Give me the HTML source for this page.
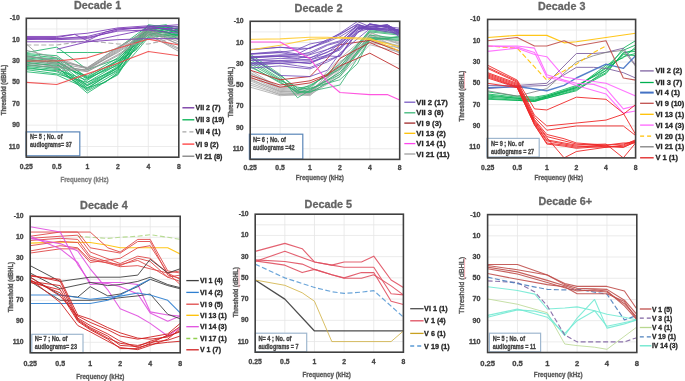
<!DOCTYPE html><html><head><meta charset="utf-8"><style>html,body{margin:0;padding:0;background:#fff;}svg{display:block;will-change:transform;filter:blur(0.25px);}text{font-family:"Liberation Sans",sans-serif;}</style></head><body>
<svg width="685" height="381" viewBox="0 0 685 381">
<rect width="685" height="381" fill="#fff"/>
<path d="M26.30 39.67H178.80 M26.30 61.04H178.80 M26.30 82.41H178.80 M26.30 103.78H178.80 M26.30 125.15H178.80 M26.30 146.52H178.80 M26.30 28.98H178.80 M56.80 18.30V157.20 M87.30 18.30V157.20 M117.80 18.30V157.20 M148.30 18.30V157.20" stroke="#e6e6e6" stroke-width="0.8" fill="none"/>
<path d="M250.20 42.55H399.70 M250.20 63.79H399.70 M250.20 85.04H399.70 M250.20 106.28H399.70 M250.20 127.53H399.70 M250.20 148.78H399.70 M250.20 31.92H399.70 M280.10 21.30V159.40 M310.00 21.30V159.40 M339.90 21.30V159.40 M369.80 21.30V159.40" stroke="#e6e6e6" stroke-width="0.8" fill="none"/>
<path d="M487.60 40.71H635.60 M487.60 62.02H635.60 M487.60 83.32H635.60 M487.60 104.63H635.60 M487.60 125.94H635.60 M487.60 147.25H635.60 M487.60 30.05H635.60 M517.20 19.40V157.90 M546.80 19.40V157.90 M576.40 19.40V157.90 M606.00 19.40V157.90" stroke="#e6e6e6" stroke-width="0.8" fill="none"/>
<path d="M30.20 237.30H180.20 M30.20 258.30H180.20 M30.20 279.30H180.20 M30.20 300.30H180.20 M30.20 321.30H180.20 M30.20 342.30H180.20 M30.20 226.80H180.20 M60.20 216.30V352.80 M90.20 216.30V352.80 M120.20 216.30V352.80 M150.20 216.30V352.80" stroke="#e6e6e6" stroke-width="0.8" fill="none"/>
<path d="M255.20 235.43H403.40 M255.20 256.66H403.40 M255.20 277.89H403.40 M255.20 299.12H403.40 M255.20 320.35H403.40 M255.20 341.58H403.40 M255.20 224.82H403.40 M284.84 214.20V352.20 M314.48 214.20V352.20 M344.12 214.20V352.20 M373.76 214.20V352.20" stroke="#e6e6e6" stroke-width="0.8" fill="none"/>
<path d="M487.60 235.82H636.80 M487.60 257.03H636.80 M487.60 278.25H636.80 M487.60 299.46H636.80 M487.60 320.68H636.80 M487.60 341.89H636.80 M487.60 225.21H636.80 M517.44 214.60V352.50 M547.28 214.60V352.50 M577.12 214.60V352.50 M606.96 214.60V352.50" stroke="#e6e6e6" stroke-width="0.8" fill="none"/>
<polyline points="26.30,52.49 56.80,47.15 87.30,69.59 117.80,58.90 135.64,41.81 148.30,28.98 178.80,34.33" stroke="#10b060" stroke-width="0.9" stroke-opacity="0.9" fill="none" stroke-linejoin="round"/>
<polyline points="56.80,52.49 87.30,52.49 105.14,52.49 117.80,48.22 148.30,25.78 178.80,32.19" stroke="#10b060" stroke-width="0.9" stroke-opacity="0.9" fill="none" stroke-linejoin="round"/>
<polyline points="26.30,54.63 56.80,57.83 87.30,77.07 117.80,61.04 135.64,43.94 148.30,26.85 166.14,24.71 178.80,31.12" stroke="#10b060" stroke-width="0.9" stroke-opacity="0.9" fill="none" stroke-linejoin="round"/>
<polyline points="26.30,56.76 56.80,58.90 87.30,82.41 117.80,64.24 135.64,39.67 148.30,28.98 178.80,35.40" stroke="#10b060" stroke-width="0.9" stroke-opacity="0.9" fill="none" stroke-linejoin="round"/>
<polyline points="26.30,57.83 56.80,61.04 87.30,85.61 117.80,67.45 135.64,46.08 148.30,31.12 166.14,26.85 178.80,33.26" stroke="#10b060" stroke-width="0.9" stroke-opacity="0.9" fill="none" stroke-linejoin="round"/>
<polyline points="26.30,58.90 56.80,63.18 87.30,87.75 117.80,69.59 135.64,41.81 148.30,24.71 178.80,28.98" stroke="#10b060" stroke-width="0.9" stroke-opacity="0.9" fill="none" stroke-linejoin="round"/>
<polyline points="26.30,61.04 56.80,64.24 87.30,89.89 117.80,71.72 135.64,48.22 148.30,32.19 166.14,35.40 178.80,37.53" stroke="#10b060" stroke-width="0.9" stroke-opacity="0.9" fill="none" stroke-linejoin="round"/>
<polyline points="26.30,62.11 56.80,66.38 87.30,93.09 117.80,73.86 135.64,45.01 148.30,27.92 178.80,31.12" stroke="#10b060" stroke-width="0.9" stroke-opacity="0.9" fill="none" stroke-linejoin="round"/>
<polyline points="26.30,64.24 56.80,68.52 87.30,84.54 117.80,66.38 135.64,40.74 148.30,30.05 166.14,25.78 178.80,26.85" stroke="#10b060" stroke-width="0.9" stroke-opacity="0.9" fill="none" stroke-linejoin="round"/>
<polyline points="26.30,66.38 56.80,69.59 87.30,80.27 117.80,61.04 135.64,50.35 148.30,34.33 178.80,38.60" stroke="#10b060" stroke-width="0.9" stroke-opacity="0.9" fill="none" stroke-linejoin="round"/>
<polyline points="26.30,67.45 56.80,71.72 87.30,87.75 105.14,82.41 117.80,72.79 135.64,52.49 148.30,37.53 178.80,34.33" stroke="#10b060" stroke-width="0.9" stroke-opacity="0.9" fill="none" stroke-linejoin="round"/>
<polyline points="26.30,69.59 56.80,73.86 87.30,82.41 117.80,68.52 135.64,42.87 148.30,35.40 166.14,28.98 178.80,32.19" stroke="#10b060" stroke-width="0.9" stroke-opacity="0.9" fill="none" stroke-linejoin="round"/>
<polyline points="26.30,55.70 56.80,61.04 87.30,79.20 117.80,63.18 135.64,38.60 148.30,27.92 178.80,36.46" stroke="#10b060" stroke-width="0.9" stroke-opacity="0.9" fill="none" stroke-linejoin="round"/>
<polyline points="26.30,59.97 56.80,62.11 87.30,78.13 117.80,59.97 135.64,39.67 148.30,31.12 166.14,33.26 178.80,28.98" stroke="#10b060" stroke-width="0.9" stroke-opacity="0.9" fill="none" stroke-linejoin="round"/>
<polyline points="26.30,63.18 56.80,65.31 87.30,76.00 117.80,57.83 135.64,37.53 148.30,25.78 178.80,33.26" stroke="#10b060" stroke-width="0.9" stroke-opacity="0.9" fill="none" stroke-linejoin="round"/>
<polyline points="26.30,53.56 56.80,55.70 87.30,78.13 117.80,65.31 135.64,43.94 148.30,33.26 178.80,35.40" stroke="#10b060" stroke-width="0.9" stroke-opacity="0.9" fill="none" stroke-linejoin="round"/>
<polyline points="26.30,65.31 56.80,67.45 87.30,90.96 117.80,74.93 135.64,47.15 148.30,28.98 166.14,26.85 178.80,30.05" stroke="#10b060" stroke-width="0.9" stroke-opacity="0.9" fill="none" stroke-linejoin="round"/>
<polyline points="26.30,68.52 56.80,70.65 87.30,85.61 117.80,70.65 135.64,41.81 148.30,32.19 178.80,27.92" stroke="#10b060" stroke-width="0.9" stroke-opacity="0.9" fill="none" stroke-linejoin="round"/>
<polyline points="26.30,71.72 56.80,74.93 87.30,88.82 117.80,67.45 135.64,49.29 148.30,36.46 166.14,31.12 178.80,39.67" stroke="#10b060" stroke-width="0.9" stroke-opacity="0.9" fill="none" stroke-linejoin="round"/>
<polyline points="26.30,43.94 56.80,70.65 87.30,69.59 117.80,50.35 148.30,31.12 178.80,41.81" stroke="#959595" stroke-width="0.9" stroke-opacity="0.9" fill="none" stroke-linejoin="round"/>
<polyline points="26.30,55.70 56.80,61.04 87.30,67.45 117.80,48.22 148.30,28.98 178.80,45.01" stroke="#959595" stroke-width="0.9" stroke-opacity="0.9" fill="none" stroke-linejoin="round"/>
<polyline points="26.30,58.90 56.80,63.18 87.30,68.52 117.80,52.49 148.30,33.26 178.80,48.22" stroke="#959595" stroke-width="0.9" stroke-opacity="0.9" fill="none" stroke-linejoin="round"/>
<polyline points="26.30,61.04 56.80,64.24 87.30,71.19 117.80,54.63 148.30,34.33 178.80,51.42" stroke="#959595" stroke-width="0.9" stroke-opacity="0.9" fill="none" stroke-linejoin="round"/>
<polyline points="26.30,63.18 56.80,66.38 87.30,70.12 117.80,51.42 148.30,32.19 178.80,43.94" stroke="#959595" stroke-width="0.9" stroke-opacity="0.9" fill="none" stroke-linejoin="round"/>
<polyline points="26.30,56.76 56.80,59.97 87.30,67.98 117.80,47.15 148.30,30.05 178.80,39.67" stroke="#959595" stroke-width="0.9" stroke-opacity="0.9" fill="none" stroke-linejoin="round"/>
<polyline points="26.30,65.31 56.80,67.45 87.30,71.72 117.80,55.70 148.30,35.40 178.80,49.29" stroke="#959595" stroke-width="0.9" stroke-opacity="0.9" fill="none" stroke-linejoin="round"/>
<polyline points="26.30,50.35 56.80,57.83 87.30,68.52 117.80,49.29 148.30,27.92 178.80,37.53" stroke="#959595" stroke-width="0.9" stroke-opacity="0.9" fill="none" stroke-linejoin="round"/>
<polyline points="26.30,61.04 56.80,61.04 87.30,57.83 117.80,48.22 148.30,39.13 178.80,45.01" stroke="#f04848" stroke-width="1.1" stroke-opacity="0.9" fill="none" stroke-linejoin="round"/>
<polyline points="26.30,82.41 56.80,84.54 87.30,73.86 117.80,63.18 148.30,51.42 178.80,55.70" stroke="#f04848" stroke-width="1.1" stroke-opacity="0.9" fill="none" stroke-linejoin="round"/>
<polyline points="26.30,45.01 56.80,45.01 87.30,40.74 117.80,43.94 148.30,43.94 178.80,37.53" stroke="#a6a6a6" stroke-width="1.1" stroke-opacity="0.9" fill="none" stroke-linejoin="round" stroke-dasharray="5,2.5"/>
<polyline points="26.30,36.46 56.80,36.46 74.64,34.33 87.30,33.26 117.80,27.92 148.30,25.78 178.80,26.85" stroke="#8040b8" stroke-width="1.0" stroke-opacity="0.9" fill="none" stroke-linejoin="round"/>
<polyline points="26.30,37.53 56.80,37.53 74.64,34.33 87.30,40.74 105.14,32.19 117.80,28.98 148.30,26.85 178.80,31.12" stroke="#8040b8" stroke-width="1.0" stroke-opacity="0.9" fill="none" stroke-linejoin="round"/>
<polyline points="26.30,38.60 56.80,38.60 87.30,36.46 117.80,28.98 148.30,27.92 178.80,28.98" stroke="#8040b8" stroke-width="1.0" stroke-opacity="0.9" fill="none" stroke-linejoin="round"/>
<polyline points="26.30,39.67 56.80,38.60 87.30,37.53 117.80,31.12 148.30,30.05 178.80,33.26" stroke="#8040b8" stroke-width="1.0" stroke-opacity="0.9" fill="none" stroke-linejoin="round"/>
<polyline points="26.30,41.81 56.80,41.81 87.30,41.81 117.80,39.67 148.30,38.60 178.80,38.60" stroke="#8040b8" stroke-width="1.0" stroke-opacity="0.9" fill="none" stroke-linejoin="round"/>
<polyline points="56.80,49.29 87.30,41.81 117.80,35.40 148.30,28.98 178.80,27.92" stroke="#8040b8" stroke-width="1.0" stroke-opacity="0.9" fill="none" stroke-linejoin="round"/>
<polyline points="26.30,38.60 56.80,39.67 87.30,38.60 117.80,30.05 148.30,26.85 178.80,24.71" stroke="#8040b8" stroke-width="1.0" stroke-opacity="0.9" fill="none" stroke-linejoin="round"/>
<polyline points="250.20,70.17 280.10,88.23 310.00,90.35 339.90,69.10 369.80,35.11 399.70,42.55" stroke="#a8a8a8" stroke-width="0.9" stroke-opacity="0.9" fill="none" stroke-linejoin="round"/>
<polyline points="250.20,72.29 280.10,89.29 310.00,91.41 339.90,72.29 369.80,37.23 399.70,46.80" stroke="#a8a8a8" stroke-width="0.9" stroke-opacity="0.9" fill="none" stroke-linejoin="round"/>
<polyline points="250.20,74.42 280.10,90.35 310.00,92.47 339.90,66.98 369.80,31.92 399.70,44.67" stroke="#a8a8a8" stroke-width="0.9" stroke-opacity="0.9" fill="none" stroke-linejoin="round"/>
<polyline points="250.20,76.54 280.10,91.41 310.00,93.54 339.90,74.42 369.80,40.42 399.70,51.04" stroke="#a8a8a8" stroke-width="0.9" stroke-opacity="0.9" fill="none" stroke-linejoin="round"/>
<polyline points="250.20,78.66 280.10,92.47 310.00,94.60 339.90,63.79 369.80,34.05 399.70,48.92" stroke="#a8a8a8" stroke-width="0.9" stroke-opacity="0.9" fill="none" stroke-linejoin="round"/>
<polyline points="250.20,80.79 280.10,93.54 310.00,95.66 339.90,70.17 369.80,38.30 399.70,53.17" stroke="#a8a8a8" stroke-width="0.9" stroke-opacity="0.9" fill="none" stroke-linejoin="round"/>
<polyline points="250.20,82.91 280.10,94.60 310.00,92.47 339.90,61.67 369.80,42.55 399.70,47.86" stroke="#a8a8a8" stroke-width="0.9" stroke-opacity="0.9" fill="none" stroke-linejoin="round"/>
<polyline points="250.20,85.04 280.10,94.60 310.00,93.54 339.90,65.92 369.80,36.17 399.70,43.61" stroke="#a8a8a8" stroke-width="0.9" stroke-opacity="0.9" fill="none" stroke-linejoin="round"/>
<polyline points="250.20,87.16 280.10,95.66 310.00,94.60 339.90,76.54 369.80,44.67 399.70,52.11" stroke="#a8a8a8" stroke-width="0.9" stroke-opacity="0.9" fill="none" stroke-linejoin="round"/>
<polyline points="250.20,73.35 280.10,87.16 310.00,89.29 339.90,58.48 369.80,32.99 399.70,41.48" stroke="#a8a8a8" stroke-width="0.9" stroke-opacity="0.9" fill="none" stroke-linejoin="round"/>
<polyline points="250.20,79.73 280.10,91.41 310.00,91.41 339.90,68.04 369.80,39.36 399.70,45.73" stroke="#a8a8a8" stroke-width="0.9" stroke-opacity="0.9" fill="none" stroke-linejoin="round"/>
<polyline points="250.20,54.23 280.10,74.42 297.59,90.35 310.00,87.16 339.90,63.79 369.80,30.86 399.70,34.05" stroke="#30b070" stroke-width="0.9" stroke-opacity="0.9" fill="none" stroke-linejoin="round"/>
<polyline points="250.20,57.42 280.10,76.54 297.59,97.79 310.00,90.35 339.90,72.29 369.80,39.36 399.70,37.23" stroke="#30b070" stroke-width="0.9" stroke-opacity="0.9" fill="none" stroke-linejoin="round"/>
<polyline points="250.20,59.54 280.10,78.66 297.59,93.54 310.00,88.23 339.90,79.73 357.39,63.79 369.80,38.30 399.70,40.42" stroke="#30b070" stroke-width="0.9" stroke-opacity="0.9" fill="none" stroke-linejoin="round"/>
<polyline points="250.20,61.67 280.10,79.73 297.59,90.35 310.00,85.04 339.90,69.10 369.80,31.92 399.70,35.11" stroke="#30b070" stroke-width="0.9" stroke-opacity="0.9" fill="none" stroke-linejoin="round"/>
<polyline points="250.20,63.79 280.10,80.79 297.59,87.16 310.00,89.29 339.90,74.42 369.80,35.11 399.70,38.30" stroke="#30b070" stroke-width="0.9" stroke-opacity="0.9" fill="none" stroke-linejoin="round"/>
<polyline points="250.20,65.92 280.10,82.91 297.59,91.41 310.00,91.41 339.90,85.04 357.39,58.48 369.80,40.42 399.70,36.17" stroke="#30b070" stroke-width="0.9" stroke-opacity="0.9" fill="none" stroke-linejoin="round"/>
<polyline points="250.20,56.36 280.10,75.48 297.59,88.23 310.00,86.10 339.90,66.98 369.80,29.80 399.70,32.99" stroke="#30b070" stroke-width="0.9" stroke-opacity="0.9" fill="none" stroke-linejoin="round"/>
<polyline points="250.20,66.98 280.10,81.85 297.59,92.47 310.00,92.47 339.90,76.54 369.80,37.23 399.70,39.36" stroke="#30b070" stroke-width="0.9" stroke-opacity="0.9" fill="none" stroke-linejoin="round"/>
<polyline points="250.20,70.17 280.10,79.73 310.00,76.54 327.49,58.48 339.90,44.67 369.80,40.42 399.70,51.04" stroke="#c03030" stroke-width="1.0" stroke-opacity="0.9" fill="none" stroke-linejoin="round"/>
<polyline points="250.20,75.48 280.10,85.04 310.00,80.79 327.49,74.42 339.90,65.92 369.80,53.17 399.70,69.10" stroke="#c03030" stroke-width="1.0" stroke-opacity="0.9" fill="none" stroke-linejoin="round"/>
<polyline points="250.20,77.60 280.10,87.16 310.00,82.91 327.49,75.48 339.90,58.48 369.80,42.55 399.70,55.29" stroke="#c03030" stroke-width="1.0" stroke-opacity="0.9" fill="none" stroke-linejoin="round"/>
<polyline points="250.20,49.45 280.10,47.22 297.59,49.34 310.00,43.93 327.49,40.63 339.90,33.20 357.39,21.51 369.80,26.61 387.29,24.70 399.70,31.82" stroke="#7048b8" stroke-width="0.9" stroke-opacity="0.9" fill="none" stroke-linejoin="round"/>
<polyline points="250.20,49.77 280.10,47.33 310.00,48.50 327.49,39.47 339.90,33.84 357.39,24.59 369.80,29.48 387.29,28.21 399.70,31.50" stroke="#7048b8" stroke-width="0.9" stroke-opacity="0.9" fill="none" stroke-linejoin="round"/>
<polyline points="250.20,53.81 280.10,51.26 297.59,54.02 310.00,47.65 327.49,40.95 339.90,34.69 357.39,23.85 369.80,28.63 387.29,25.66 399.70,33.20" stroke="#7048b8" stroke-width="0.9" stroke-opacity="0.9" fill="none" stroke-linejoin="round"/>
<polyline points="250.20,53.81 280.10,52.32 310.00,48.18 327.49,41.91 339.90,36.81 357.39,26.08 369.80,26.19 387.29,26.51 399.70,33.30" stroke="#7048b8" stroke-width="0.9" stroke-opacity="0.9" fill="none" stroke-linejoin="round"/>
<polyline points="250.20,54.34 280.10,52.64 297.59,55.19 310.00,52.21 327.49,44.46 339.90,40.74 357.39,26.08 369.80,29.05 387.29,29.16 399.70,30.44" stroke="#7048b8" stroke-width="0.9" stroke-opacity="0.9" fill="none" stroke-linejoin="round"/>
<polyline points="250.20,57.21 280.10,54.87 310.00,53.91 327.49,45.31 339.90,41.80 357.39,24.70 369.80,27.67 387.29,29.37 399.70,33.20" stroke="#7048b8" stroke-width="0.9" stroke-opacity="0.9" fill="none" stroke-linejoin="round"/>
<polyline points="250.20,57.95 280.10,56.36 297.59,58.59 310.00,54.66 327.49,49.45 339.90,43.08 357.39,28.74 369.80,29.48 387.29,27.46 399.70,34.05" stroke="#7048b8" stroke-width="0.9" stroke-opacity="0.9" fill="none" stroke-linejoin="round"/>
<polyline points="250.20,56.46 280.10,56.14 310.00,57.74 327.49,52.43 339.90,43.61 357.39,27.36 369.80,27.67 387.29,24.59 399.70,32.14" stroke="#7048b8" stroke-width="0.9" stroke-opacity="0.9" fill="none" stroke-linejoin="round"/>
<polyline points="250.20,57.95 280.10,55.72 297.59,55.93 310.00,58.16 327.49,49.34 339.90,44.88 357.39,28.10 369.80,28.95 387.29,25.02 399.70,31.92" stroke="#7048b8" stroke-width="0.9" stroke-opacity="0.9" fill="none" stroke-linejoin="round"/>
<polyline points="250.20,60.29 280.10,60.50 310.00,60.07 327.49,51.79 339.90,47.54 357.39,28.52 369.80,29.05 387.29,30.54 399.70,29.16" stroke="#7048b8" stroke-width="0.9" stroke-opacity="0.9" fill="none" stroke-linejoin="round"/>
<polyline points="250.20,60.29 280.10,58.37 297.59,59.12 310.00,59.86 327.49,55.19 339.90,48.07 357.39,27.67 369.80,26.08 387.29,26.82 399.70,33.09" stroke="#7048b8" stroke-width="0.9" stroke-opacity="0.9" fill="none" stroke-linejoin="round"/>
<polyline points="250.20,63.90 280.10,63.47 310.00,61.77 327.49,57.10 339.90,48.39 357.39,32.14 369.80,28.42 387.29,30.01 399.70,35.32" stroke="#7048b8" stroke-width="0.9" stroke-opacity="0.9" fill="none" stroke-linejoin="round"/>
<polyline points="250.20,63.26 280.10,61.88 297.59,62.20 310.00,63.26 327.49,54.66 339.90,49.98 357.39,29.80 369.80,24.49 387.29,26.61 399.70,28.21" stroke="#7048b8" stroke-width="0.9" stroke-opacity="0.9" fill="none" stroke-linejoin="round"/>
<polyline points="250.20,63.15 280.10,60.92 310.00,63.58 327.49,55.83 339.90,56.67 357.39,32.24 369.80,24.38 387.29,26.08 399.70,30.97" stroke="#7048b8" stroke-width="0.9" stroke-opacity="0.9" fill="none" stroke-linejoin="round"/>
<polyline points="250.20,65.39 280.10,63.15 297.59,65.81 310.00,67.62 327.49,60.07 339.90,55.72 357.39,30.54 369.80,24.06 387.29,26.72 399.70,30.22" stroke="#7048b8" stroke-width="0.9" stroke-opacity="0.9" fill="none" stroke-linejoin="round"/>
<polyline points="250.20,68.04 280.10,65.92 310.00,68.89 327.49,61.88 339.90,55.19 357.39,33.20 369.80,23.64 387.29,27.89 399.70,37.02" stroke="#7048b8" stroke-width="0.9" stroke-opacity="0.9" fill="none" stroke-linejoin="round"/>
<polyline points="250.20,57.42 280.10,75.48 310.00,76.54 327.49,70.17 339.90,53.17 369.80,28.74 399.70,34.05" stroke="#7048b8" stroke-width="0.9" stroke-opacity="0.9" fill="none" stroke-linejoin="round"/>
<polyline points="250.20,39.36 280.10,38.83 310.00,37.23 327.49,37.23 339.90,38.30 369.80,39.36 399.70,46.80" stroke="#ffcc33" stroke-width="1.1" stroke-opacity="0.9" fill="none" stroke-linejoin="round"/>
<polyline points="250.20,49.98 280.10,45.20 310.00,39.36 327.49,38.30 339.90,37.23 369.80,38.30 399.70,51.04" stroke="#ffcc33" stroke-width="1.1" stroke-opacity="0.9" fill="none" stroke-linejoin="round"/>
<polyline points="250.20,42.02 280.10,42.02 310.00,58.48 327.49,81.85 339.90,92.47 369.80,94.60 387.29,94.60 399.70,99.91" stroke="#ff44dd" stroke-width="1.1" stroke-opacity="0.9" fill="none" stroke-linejoin="round"/>
<polyline points="487.60,91.85 517.20,96.11 534.51,97.17 546.80,95.04 576.40,85.45 606.00,70.54 623.31,48.17 635.60,40.71" stroke="#00b050" stroke-width="0.9" stroke-opacity="0.9" fill="none" stroke-linejoin="round"/>
<polyline points="487.60,93.98 517.20,97.17 534.51,98.24 546.80,96.11 576.40,87.58 606.00,67.34 623.31,50.30 635.60,44.97" stroke="#00b050" stroke-width="0.9" stroke-opacity="0.9" fill="none" stroke-linejoin="round"/>
<polyline points="487.60,95.04 517.20,98.24 534.51,99.30 546.80,97.17 576.40,88.65 606.00,72.67 623.31,53.49 635.60,49.23" stroke="#00b050" stroke-width="0.9" stroke-opacity="0.9" fill="none" stroke-linejoin="round"/>
<polyline points="487.60,96.11 517.20,98.24 534.51,100.37 546.80,96.11 576.40,86.52 606.00,68.41 623.31,56.69 635.60,53.49" stroke="#00b050" stroke-width="0.9" stroke-opacity="0.9" fill="none" stroke-linejoin="round"/>
<polyline points="487.60,97.17 517.20,99.30 534.51,100.37 546.80,98.24 576.40,89.72 606.00,73.73 623.31,52.43 635.60,51.36" stroke="#00b050" stroke-width="0.9" stroke-opacity="0.9" fill="none" stroke-linejoin="round"/>
<polyline points="487.60,98.24 517.20,100.37 534.51,101.43 546.80,98.24 576.40,90.78 606.00,70.54 623.31,54.56 635.60,55.62" stroke="#00b050" stroke-width="0.9" stroke-opacity="0.9" fill="none" stroke-linejoin="round"/>
<polyline points="487.60,99.30 517.20,100.37 534.51,101.43 546.80,97.17 576.40,87.58 606.00,65.21 623.31,57.75 635.60,47.10" stroke="#00b050" stroke-width="0.9" stroke-opacity="0.9" fill="none" stroke-linejoin="round"/>
<polyline points="487.60,85.45 517.20,85.45 546.80,83.32 576.40,53.49 593.71,53.49 606.00,52.43 623.31,48.17 635.60,65.21" stroke="#8064a2" stroke-width="1.0" stroke-opacity="0.9" fill="none" stroke-linejoin="round"/>
<polyline points="487.60,88.65 517.20,86.52 546.80,85.45 576.40,67.34 593.71,67.34 606.00,68.41 623.31,72.67 635.60,78.00" stroke="#8064a2" stroke-width="1.0" stroke-opacity="0.9" fill="none" stroke-linejoin="round"/>
<polyline points="487.60,90.78 517.20,96.11 546.80,88.65 576.40,62.02 593.71,55.62 606.00,52.43 623.31,50.30 635.60,66.28" stroke="#808080" stroke-width="0.9" stroke-opacity="0.9" fill="none" stroke-linejoin="round"/>
<polyline points="487.60,87.58 517.20,86.52 546.80,90.78 564.11,85.45 576.40,78.00 606.00,64.15 623.31,68.41 635.60,55.62" stroke="#4472c4" stroke-width="1.4" stroke-opacity="0.9" fill="none" stroke-linejoin="round"/>
<polyline points="487.60,37.51 517.20,35.38 546.80,35.38 564.11,42.84 576.40,41.77 606.00,37.51 635.60,33.25" stroke="#ffc000" stroke-width="1.1" stroke-opacity="0.9" fill="none" stroke-linejoin="round"/>
<polyline points="487.60,46.03 517.20,48.17 546.80,80.13 576.40,64.15 593.71,52.43 606.00,46.03" stroke="#ffc000" stroke-width="1.1" stroke-opacity="0.9" fill="none" stroke-linejoin="round" stroke-dasharray="5,2.5"/>
<polyline points="487.60,40.71 517.20,37.51 534.51,46.03 546.80,46.03 564.11,40.71 576.40,46.03 606.00,40.71 623.31,78.00 635.60,80.13" stroke="#c0504d" stroke-width="1.1" stroke-opacity="0.9" fill="none" stroke-linejoin="round"/>
<polyline points="487.60,46.03 517.20,46.03 534.51,48.17 546.80,74.80 564.11,80.13 576.40,83.32 593.71,84.39 606.00,88.65 623.31,108.89 635.60,105.70" stroke="#ff66ff" stroke-width="1.1" stroke-opacity="0.9" fill="none" stroke-linejoin="round"/>
<polyline points="487.60,51.36 517.20,48.17 534.51,54.56 546.80,56.69 564.11,76.93 576.40,79.06 606.00,83.32 635.60,96.11" stroke="#ff66ff" stroke-width="1.1" stroke-opacity="0.9" fill="none" stroke-linejoin="round"/>
<polyline points="487.60,46.03 517.20,47.10 534.51,52.43 546.80,76.93 564.11,81.19 576.40,85.45 606.00,93.98 623.31,113.15 635.60,111.02" stroke="#ff66ff" stroke-width="1.1" stroke-opacity="0.9" fill="none" stroke-linejoin="round"/>
<polyline points="487.60,65.21 517.20,80.13 534.51,108.89 546.80,109.96 576.40,97.17 606.00,99.30 623.31,113.15 635.60,134.46" stroke="#f02828" stroke-width="1.0" stroke-opacity="0.9" fill="none" stroke-linejoin="round"/>
<polyline points="487.60,67.34 517.20,81.19 534.51,115.28 546.80,125.94 606.00,120.08 623.31,114.22 635.60,104.63" stroke="#f02828" stroke-width="1.0" stroke-opacity="0.9" fill="none" stroke-linejoin="round"/>
<polyline points="487.60,68.41 517.20,82.26 534.51,117.42 546.80,130.20 576.40,125.94 623.31,125.94 635.60,135.53" stroke="#f02828" stroke-width="1.0" stroke-opacity="0.9" fill="none" stroke-linejoin="round"/>
<polyline points="487.60,72.67 517.20,83.32 534.51,119.55 546.80,134.46 564.11,138.72 576.40,142.98 606.00,145.12 623.31,144.05 635.60,140.85" stroke="#f02828" stroke-width="1.0" stroke-opacity="0.9" fill="none" stroke-linejoin="round"/>
<polyline points="487.60,73.73 517.20,84.39 534.51,120.61 546.80,136.59 564.11,140.85 576.40,144.05 606.00,146.18 623.31,147.25 635.60,141.92" stroke="#f02828" stroke-width="1.0" stroke-opacity="0.9" fill="none" stroke-linejoin="round"/>
<polyline points="487.60,74.80 517.20,85.45 534.51,121.68 546.80,137.66 564.11,157.90 576.40,151.51 606.00,147.25 623.31,145.12 635.60,139.79" stroke="#f02828" stroke-width="1.0" stroke-opacity="0.9" fill="none" stroke-linejoin="round"/>
<polyline points="487.60,75.87 517.20,86.52 534.51,122.74 546.80,139.79 564.11,142.98 576.40,145.12 606.00,144.05 623.31,157.90 635.60,142.98" stroke="#f02828" stroke-width="1.0" stroke-opacity="0.9" fill="none" stroke-linejoin="round"/>
<polyline points="487.60,76.93 517.20,87.05 534.51,123.81 546.80,140.85 564.11,144.05 576.40,146.18 606.00,147.25 623.31,146.18 635.60,140.85" stroke="#f02828" stroke-width="1.0" stroke-opacity="0.9" fill="none" stroke-linejoin="round"/>
<polyline points="487.60,78.00 517.20,87.58 534.51,124.87 546.80,142.98 564.11,145.12 576.40,147.25 606.00,145.12 623.31,142.98 635.60,142.98" stroke="#f02828" stroke-width="1.0" stroke-opacity="0.9" fill="none" stroke-linejoin="round"/>
<polyline points="487.60,83.32 517.20,87.58 534.51,124.87 546.80,144.05 564.11,146.18 576.40,148.31 606.00,146.18 623.31,147.25 635.60,141.92" stroke="#f02828" stroke-width="1.0" stroke-opacity="0.9" fill="none" stroke-linejoin="round"/>
<polyline points="77.75,236.25 90.20,237.30 107.75,238.35 120.20,237.30 137.75,236.25 150.20,234.68 167.75,237.30 180.20,239.40" stroke="#b0d888" stroke-width="1.1" stroke-opacity="0.9" fill="none" stroke-linejoin="round" stroke-dasharray="5,2.5"/>
<polyline points="30.20,243.08 60.20,242.03 90.20,242.55 107.75,245.18 120.20,247.80 150.20,247.80 167.75,247.80 180.20,254.10" stroke="#ffc000" stroke-width="1.1" stroke-opacity="0.9" fill="none" stroke-linejoin="round"/>
<polyline points="30.20,232.05 60.20,232.05 90.20,232.05 107.75,247.80 120.20,252.00 137.75,239.40 150.20,239.40 167.75,270.90 180.20,273.00" stroke="#e04848" stroke-width="1.0" stroke-opacity="0.9" fill="none" stroke-linejoin="round"/>
<polyline points="30.20,236.25 60.20,232.05 77.75,232.05 90.20,247.80 120.20,253.05 137.75,241.50 150.20,241.50 167.75,275.10 180.20,278.25" stroke="#e04848" stroke-width="1.0" stroke-opacity="0.9" fill="none" stroke-linejoin="round"/>
<polyline points="30.20,238.35 60.20,236.25 77.75,235.20 90.20,252.00 120.20,263.55 137.75,256.20 150.20,258.30 167.75,273.00 180.20,270.90" stroke="#e04848" stroke-width="1.0" stroke-opacity="0.9" fill="none" stroke-linejoin="round"/>
<polyline points="30.20,240.45 60.20,238.35 77.75,239.40 90.20,256.20 120.20,265.65 137.75,258.30 150.20,261.45 167.75,277.20 180.20,281.40" stroke="#e04848" stroke-width="1.0" stroke-opacity="0.9" fill="none" stroke-linejoin="round"/>
<polyline points="30.20,245.70 60.20,241.50 77.75,242.55 90.20,258.30 120.20,266.70 137.75,265.65 150.20,268.80 167.75,273.00 180.20,284.55" stroke="#e04848" stroke-width="1.0" stroke-opacity="0.9" fill="none" stroke-linejoin="round"/>
<polyline points="30.20,250.95 60.20,245.70 77.75,247.80 90.20,260.40 120.20,264.60 137.75,260.40 150.20,266.70 167.75,277.20 180.20,275.10" stroke="#e04848" stroke-width="1.0" stroke-opacity="0.9" fill="none" stroke-linejoin="round"/>
<polyline points="30.20,253.05 60.20,248.85 77.75,248.85 90.20,262.50 120.20,258.30 137.75,247.80 150.20,245.70 167.75,273.00 180.20,279.30" stroke="#e04848" stroke-width="1.0" stroke-opacity="0.9" fill="none" stroke-linejoin="round"/>
<polyline points="30.20,226.80 60.20,232.05 77.75,264.60 90.20,282.45 107.75,282.45 120.20,282.45 137.75,284.55 150.20,311.85 167.75,315.00 180.20,316.05" stroke="#e050e0" stroke-width="1.1" stroke-opacity="0.9" fill="none" stroke-linejoin="round"/>
<polyline points="30.20,236.25 60.20,248.85 77.75,262.50 90.20,284.55 107.75,283.50 120.20,286.65 137.75,294.00 150.20,312.90 167.75,321.30 180.20,316.05" stroke="#e050e0" stroke-width="1.1" stroke-opacity="0.9" fill="none" stroke-linejoin="round"/>
<polyline points="30.20,238.35 60.20,243.60 77.75,250.95 90.20,268.80 107.75,289.80 120.20,308.70 137.75,316.05 150.20,323.40 167.75,336.00 180.20,327.60" stroke="#e050e0" stroke-width="1.1" stroke-opacity="0.9" fill="none" stroke-linejoin="round"/>
<polyline points="30.20,265.65 60.20,281.40 90.20,277.20 120.20,277.20 137.75,275.10 150.20,259.35 167.75,273.00 180.20,268.80" stroke="#404040" stroke-width="1.0" stroke-opacity="0.9" fill="none" stroke-linejoin="round"/>
<polyline points="30.20,273.00 60.20,288.75 90.20,282.45 107.75,285.60 120.20,284.55 137.75,281.40 150.20,277.20 167.75,284.55 180.20,287.70" stroke="#404040" stroke-width="1.0" stroke-opacity="0.9" fill="none" stroke-linejoin="round"/>
<polyline points="30.20,277.20 60.20,295.05 77.75,297.15 90.20,286.65 107.75,295.89 120.20,294.00 137.75,286.65 150.20,279.30 167.75,285.60 180.20,288.75" stroke="#404040" stroke-width="1.0" stroke-opacity="0.9" fill="none" stroke-linejoin="round"/>
<polyline points="30.20,281.40 60.20,300.30 90.20,300.30 107.75,299.46 120.20,297.68 137.75,295.89 150.20,294.00 167.75,314.26 180.20,318.78" stroke="#404040" stroke-width="1.0" stroke-opacity="0.9" fill="none" stroke-linejoin="round"/>
<polyline points="30.20,295.05 60.20,295.05 90.20,299.25 120.20,296.10 137.75,292.95 150.20,295.05 167.75,300.30 180.20,312.90" stroke="#2f7fd0" stroke-width="1.1" stroke-opacity="0.9" fill="none" stroke-linejoin="round"/>
<polyline points="30.20,303.45 60.20,303.45 90.20,303.45 107.75,300.30 120.20,295.05 137.75,285.60 150.20,279.30" stroke="#2f7fd0" stroke-width="1.1" stroke-opacity="0.9" fill="none" stroke-linejoin="round"/>
<polyline points="30.20,279.30 60.20,302.40 77.75,325.50 90.20,331.80 107.75,341.25 120.20,347.55 137.75,349.65 150.20,345.45 167.75,339.15 180.20,328.65" stroke="#d02020" stroke-width="1.0" stroke-opacity="0.9" fill="none" stroke-linejoin="round"/>
<polyline points="30.20,277.20 60.20,296.10 77.75,316.05 90.20,322.35 107.75,329.70 120.20,336.00 137.75,339.15 150.20,337.05 167.75,333.90 180.20,323.40" stroke="#d02020" stroke-width="1.0" stroke-opacity="0.9" fill="none" stroke-linejoin="round"/>
<polyline points="30.20,275.10 60.20,281.40 77.75,318.15 90.20,325.50 107.75,333.90 120.20,341.25 137.75,347.55 150.20,344.40 167.75,342.30 180.20,341.25" stroke="#d02020" stroke-width="1.0" stroke-opacity="0.9" fill="none" stroke-linejoin="round"/>
<polyline points="30.20,281.40 60.20,285.60 77.75,319.20 90.20,327.60 107.75,336.00 120.20,345.45 137.75,346.50 150.20,341.25 167.75,336.00 180.20,331.80" stroke="#d02020" stroke-width="1.0" stroke-opacity="0.9" fill="none" stroke-linejoin="round"/>
<polyline points="30.20,282.45 60.20,289.80 77.75,320.25 90.20,328.65 107.75,338.10 120.20,343.35 137.75,345.45 150.20,342.30 167.75,340.20 180.20,336.00" stroke="#d02020" stroke-width="1.0" stroke-opacity="0.9" fill="none" stroke-linejoin="round"/>
<polyline points="30.20,276.15 60.20,279.30 77.75,315.00 90.20,319.20 107.75,327.60 120.20,332.85 137.75,338.10 150.20,339.15 167.75,337.05 180.20,330.75" stroke="#d02020" stroke-width="1.0" stroke-opacity="0.9" fill="none" stroke-linejoin="round"/>
<polyline points="30.20,280.35 60.20,292.95 77.75,321.30 90.20,329.70 107.75,339.15 120.20,348.60 137.75,348.60 150.20,343.35 167.75,334.95 180.20,326.55" stroke="#d02020" stroke-width="1.0" stroke-opacity="0.9" fill="none" stroke-linejoin="round"/>
<polyline points="255.20,280.02 284.84,299.12 314.48,330.97 403.40,330.97" stroke="#3a3a3a" stroke-width="1.3" stroke-opacity="0.9" fill="none" stroke-linejoin="round"/>
<polyline points="255.20,280.02 284.84,285.32 302.18,292.75 314.48,301.25 331.82,341.58 391.10,341.58 403.40,330.97" stroke="#d0b040" stroke-width="0.9" stroke-opacity="0.9" fill="none" stroke-linejoin="round"/>
<polyline points="255.20,264.09 284.84,277.89 314.48,287.45 331.82,291.69 344.12,293.39 361.46,292.12 373.76,290.63 403.40,317.17" stroke="#5b9bd5" stroke-width="1.2" stroke-opacity="0.9" fill="none" stroke-linejoin="round" stroke-dasharray="5,2.5"/>
<polyline points="255.20,251.35 284.84,243.39 302.18,248.70 314.48,261.97 331.82,265.15 344.12,261.97 361.46,261.97 373.76,256.13 391.10,280.02 403.40,287.45" stroke="#e05060" stroke-width="1.1" stroke-opacity="0.9" fill="none" stroke-linejoin="round"/>
<polyline points="255.20,261.44 284.84,251.35 314.48,261.97 331.82,265.15 344.12,267.28 361.46,267.28 373.76,267.28 391.10,293.82 403.40,294.88" stroke="#e05060" stroke-width="1.1" stroke-opacity="0.9" fill="none" stroke-linejoin="round"/>
<polyline points="255.20,259.85 284.84,261.44 302.18,264.09 314.48,269.40 331.82,274.71 344.12,277.89 361.46,272.58 373.76,272.58 391.10,301.25 403.40,304.43" stroke="#e05060" stroke-width="1.1" stroke-opacity="0.9" fill="none" stroke-linejoin="round"/>
<polyline points="255.20,260.91 284.84,265.15 302.18,272.58 314.48,269.40 331.82,274.71 344.12,278.21 361.46,278.21 373.76,274.71 391.10,285.85 403.40,294.88" stroke="#e05060" stroke-width="1.1" stroke-opacity="0.9" fill="none" stroke-linejoin="round"/>
<polyline points="487.60,298.93 517.44,304.24 547.28,312.72 564.74,344.01 577.12,345.61 594.58,347.20 606.96,349.32 636.80,327.04" stroke="#c0dc9c" stroke-width="1.0" stroke-opacity="0.9" fill="none" stroke-linejoin="round"/>
<polyline points="487.60,286.73 517.44,290.44 534.90,294.16 547.28,309.01 564.74,307.95 577.12,306.89 594.58,310.71 606.96,314.31 624.42,317.18 636.80,319.93" stroke="#74ead4" stroke-width="1.1" stroke-opacity="0.9" fill="none" stroke-linejoin="round"/>
<polyline points="487.60,317.18 517.44,309.86 534.90,311.13 547.28,314.31 564.74,335.53 577.12,318.02 594.58,299.46 606.96,328.10 624.42,323.86 636.80,319.93" stroke="#74ead4" stroke-width="1.1" stroke-opacity="0.9" fill="none" stroke-linejoin="round"/>
<polyline points="487.60,315.37 517.44,309.01 547.28,317.18 564.74,333.41 577.12,320.68 594.58,310.71 606.96,326.30 636.80,319.93" stroke="#74ead4" stroke-width="1.1" stroke-opacity="0.9" fill="none" stroke-linejoin="round"/>
<polyline points="487.60,280.90 517.44,282.49 534.90,292.04 547.28,305.83 564.74,335.00 577.12,341.89 594.58,341.89 606.96,341.89 624.42,341.89 636.80,337.65" stroke="#8064a2" stroke-width="1.1" stroke-opacity="0.9" fill="none" stroke-linejoin="round" stroke-dasharray="5,2.5"/>
<polyline points="487.60,277.19 517.44,283.55 547.28,289.38 564.74,289.91 577.12,289.17 594.58,292.04 606.96,294.16 624.42,319.93 636.80,315.37" stroke="#4f81bd" stroke-width="1.2" stroke-opacity="0.9" fill="none" stroke-linejoin="round" stroke-dasharray="5,2.5"/>
<polyline points="487.60,264.46 517.44,264.46 547.28,275.06 564.74,283.55 577.12,286.41 594.58,286.41 606.96,286.41 624.42,290.98 636.80,309.01" stroke="#c0504d" stroke-width="1.1" stroke-opacity="0.9" fill="none" stroke-linejoin="round"/>
<polyline points="487.60,265.52 517.44,269.76 547.28,275.06 564.74,284.61 577.12,288.22 594.58,288.85 606.96,289.38 624.42,300.20 636.80,314.31" stroke="#c0504d" stroke-width="1.1" stroke-opacity="0.9" fill="none" stroke-linejoin="round"/>
<polyline points="487.60,267.11 517.44,271.88 547.28,280.37 564.74,285.67 577.12,289.91 594.58,290.98 606.96,292.04 624.42,303.70 636.80,317.18" stroke="#c0504d" stroke-width="1.1" stroke-opacity="0.9" fill="none" stroke-linejoin="round"/>
<polyline points="487.60,273.47 517.44,279.31 547.28,284.61 564.74,286.73 577.12,293.73 594.58,293.73 606.96,293.73 624.42,301.58 636.80,318.98" stroke="#c0504d" stroke-width="1.1" stroke-opacity="0.9" fill="none" stroke-linejoin="round"/>
<polyline points="487.60,268.70 517.44,274.00 547.28,282.49 564.74,287.79 577.12,290.98 594.58,289.91 606.96,290.98 624.42,305.83 636.80,319.62" stroke="#c0504d" stroke-width="1.1" stroke-opacity="0.9" fill="none" stroke-linejoin="round"/>
<rect x="26.1" y="131.9" width="53.70" height="23.90" fill="#fff" stroke="#5b86b8" stroke-width="1.2"/>
<text x="30.10" y="139.30" font-size="6.8" font-weight="bold" fill="#404040" text-anchor="start" textLength="32.4" lengthAdjust="spacingAndGlyphs" stroke="#404040" stroke-width="0.3" >N= 5 ; No. of</text>
<text x="30.10" y="147.10" font-size="6.8" font-weight="bold" fill="#404040" text-anchor="start" textLength="41.6" lengthAdjust="spacingAndGlyphs" stroke="#404040" stroke-width="0.3" >audiograms= 37</text>
<rect x="26.30" y="18.30" width="152.50" height="138.90" fill="none" stroke="#404040" stroke-width="1.6"/>
<text x="19.70" y="20.30" font-size="6.8" font-weight="bold" fill="#444444" text-anchor="end" stroke="#444444" stroke-width="0.3" >-10</text>
<text x="19.70" y="41.67" font-size="6.8" font-weight="bold" fill="#444444" text-anchor="end" stroke="#444444" stroke-width="0.3" >10</text>
<text x="19.70" y="63.04" font-size="6.8" font-weight="bold" fill="#444444" text-anchor="end" stroke="#444444" stroke-width="0.3" >30</text>
<text x="19.70" y="84.41" font-size="6.8" font-weight="bold" fill="#444444" text-anchor="end" stroke="#444444" stroke-width="0.3" >50</text>
<text x="19.70" y="105.78" font-size="6.8" font-weight="bold" fill="#444444" text-anchor="end" stroke="#444444" stroke-width="0.3" >70</text>
<text x="19.70" y="127.15" font-size="6.8" font-weight="bold" fill="#444444" text-anchor="end" stroke="#444444" stroke-width="0.3" >90</text>
<text x="19.70" y="148.52" font-size="6.8" font-weight="bold" fill="#444444" text-anchor="end" stroke="#444444" stroke-width="0.3" >110</text>
<text x="26.30" y="169.30" font-size="6.8" font-weight="bold" fill="#444444" text-anchor="middle" stroke="#444444" stroke-width="0.3" >0.25</text>
<text x="56.80" y="169.30" font-size="6.8" font-weight="bold" fill="#444444" text-anchor="middle" stroke="#444444" stroke-width="0.3" >0.5</text>
<text x="87.30" y="169.30" font-size="6.8" font-weight="bold" fill="#444444" text-anchor="middle" stroke="#444444" stroke-width="0.3" >1</text>
<text x="117.80" y="169.30" font-size="6.8" font-weight="bold" fill="#444444" text-anchor="middle" stroke="#444444" stroke-width="0.3" >2</text>
<text x="148.30" y="169.30" font-size="6.8" font-weight="bold" fill="#444444" text-anchor="middle" stroke="#444444" stroke-width="0.3" >4</text>
<text x="178.80" y="169.30" font-size="6.8" font-weight="bold" fill="#444444" text-anchor="middle" stroke="#444444" stroke-width="0.3" >8</text>
<text x="84.50" y="182.30" font-size="6.8" font-weight="bold" fill="#7f7f7f" text-anchor="middle" textLength="48.1" lengthAdjust="spacingAndGlyphs" stroke="#7f7f7f" stroke-width="0.3" >Frequency (kHz)</text>
<text x="0" y="0" font-size="7.2" font-weight="bold" fill="#595959" stroke="#595959" stroke-width="0.4" text-anchor="middle" textLength="50.5" lengthAdjust="spacingAndGlyphs" transform="translate(6.20,89.95) rotate(-90)">Threshold (dBHL)</text>
<line x1="182.4" y1="107.8" x2="194.3" y2="107.8" stroke="#7030a0" stroke-width="1.3"/>
<text x="195.60" y="110.30" font-size="7.0" font-weight="bold" fill="#262626" text-anchor="start" stroke="#262626" stroke-width="0.3" >VII 2 (7)</text>
<line x1="182.4" y1="119.8" x2="194.3" y2="119.8" stroke="#00b050" stroke-width="1.3"/>
<text x="195.60" y="122.30" font-size="7.0" font-weight="bold" fill="#262626" text-anchor="start" stroke="#262626" stroke-width="0.3" >VII 3 (19)</text>
<line x1="182.4" y1="131.9" x2="194.3" y2="131.9" stroke="#a6a6a6" stroke-width="1.3" stroke-dasharray="4,3"/>
<text x="195.60" y="134.40" font-size="7.0" font-weight="bold" fill="#262626" text-anchor="start" stroke="#262626" stroke-width="0.3" >VII 4 (1)</text>
<line x1="182.4" y1="144.1" x2="194.3" y2="144.1" stroke="#ff3b3b" stroke-width="1.3"/>
<text x="195.60" y="146.60" font-size="7.0" font-weight="bold" fill="#262626" text-anchor="start" stroke="#262626" stroke-width="0.3" >VI 9 (2)</text>
<line x1="182.4" y1="156.2" x2="194.3" y2="156.2" stroke="#7f7f7f" stroke-width="1.3"/>
<text x="195.60" y="158.70" font-size="7.0" font-weight="bold" fill="#262626" text-anchor="start" stroke="#262626" stroke-width="0.3" >VI 21 (8)</text>
<rect x="249.4" y="134.2" width="53.40" height="24.90" fill="#fff" stroke="#5b86b8" stroke-width="1.2"/>
<text x="252.90" y="142.30" font-size="6.8" font-weight="bold" fill="#404040" text-anchor="start" textLength="33.1" lengthAdjust="spacingAndGlyphs" stroke="#404040" stroke-width="0.3" >N= 6 ; No. of</text>
<text x="252.90" y="150.20" font-size="6.8" font-weight="bold" fill="#404040" text-anchor="start" textLength="41.7" lengthAdjust="spacingAndGlyphs" stroke="#404040" stroke-width="0.3" >audiograms =42</text>
<rect x="250.20" y="21.30" width="149.50" height="138.10" fill="none" stroke="#404040" stroke-width="1.6"/>
<text x="243.60" y="23.30" font-size="6.8" font-weight="bold" fill="#444444" text-anchor="end" stroke="#444444" stroke-width="0.3" >-10</text>
<text x="243.60" y="44.55" font-size="6.8" font-weight="bold" fill="#444444" text-anchor="end" stroke="#444444" stroke-width="0.3" >10</text>
<text x="243.60" y="65.79" font-size="6.8" font-weight="bold" fill="#444444" text-anchor="end" stroke="#444444" stroke-width="0.3" >30</text>
<text x="243.60" y="87.04" font-size="6.8" font-weight="bold" fill="#444444" text-anchor="end" stroke="#444444" stroke-width="0.3" >50</text>
<text x="243.60" y="108.28" font-size="6.8" font-weight="bold" fill="#444444" text-anchor="end" stroke="#444444" stroke-width="0.3" >70</text>
<text x="243.60" y="129.53" font-size="6.8" font-weight="bold" fill="#444444" text-anchor="end" stroke="#444444" stroke-width="0.3" >90</text>
<text x="243.60" y="150.78" font-size="6.8" font-weight="bold" fill="#444444" text-anchor="end" stroke="#444444" stroke-width="0.3" >110</text>
<text x="250.20" y="170.20" font-size="6.8" font-weight="bold" fill="#444444" text-anchor="middle" stroke="#444444" stroke-width="0.3" >0.25</text>
<text x="280.10" y="170.20" font-size="6.8" font-weight="bold" fill="#444444" text-anchor="middle" stroke="#444444" stroke-width="0.3" >0.5</text>
<text x="310.00" y="170.20" font-size="6.8" font-weight="bold" fill="#444444" text-anchor="middle" stroke="#444444" stroke-width="0.3" >1</text>
<text x="339.90" y="170.20" font-size="6.8" font-weight="bold" fill="#444444" text-anchor="middle" stroke="#444444" stroke-width="0.3" >2</text>
<text x="369.80" y="170.20" font-size="6.8" font-weight="bold" fill="#444444" text-anchor="middle" stroke="#444444" stroke-width="0.3" >4</text>
<text x="399.70" y="170.20" font-size="6.8" font-weight="bold" fill="#444444" text-anchor="middle" stroke="#444444" stroke-width="0.3" >8</text>
<text x="319.80" y="179.60" font-size="6.8" font-weight="bold" fill="#595959" text-anchor="middle" textLength="48.1" lengthAdjust="spacingAndGlyphs" stroke="#595959" stroke-width="0.3" >Frequency (kHz)</text>
<text x="0" y="0" font-size="7.2" font-weight="bold" fill="#595959" stroke="#595959" stroke-width="0.4" text-anchor="middle" textLength="50.5" lengthAdjust="spacingAndGlyphs" transform="translate(233.00,92.05) rotate(-90)">Threshold (dBHL)</text>
<line x1="404.3" y1="102.2" x2="415.3" y2="102.2" stroke="#7a5cc4" stroke-width="1.3"/>
<text x="416.30" y="104.70" font-size="7.7" font-weight="bold" fill="#262626" text-anchor="start" stroke="#262626" stroke-width="0.3" >VII 2 (17)</text>
<line x1="404.3" y1="112.8" x2="415.3" y2="112.8" stroke="#3cb878" stroke-width="1.3"/>
<text x="416.30" y="115.30" font-size="7.7" font-weight="bold" fill="#262626" text-anchor="start" stroke="#262626" stroke-width="0.3" >VII 3 (8)</text>
<line x1="404.3" y1="123.1" x2="415.3" y2="123.1" stroke="#a02828" stroke-width="1.3"/>
<text x="416.30" y="125.60" font-size="7.7" font-weight="bold" fill="#262626" text-anchor="start" stroke="#262626" stroke-width="0.3" >VI 9 (3)</text>
<line x1="404.3" y1="133.3" x2="415.3" y2="133.3" stroke="#ffc000" stroke-width="1.3"/>
<text x="416.30" y="135.80" font-size="7.7" font-weight="bold" fill="#262626" text-anchor="start" stroke="#262626" stroke-width="0.3" >VI 13 (2)</text>
<line x1="404.3" y1="143.6" x2="415.3" y2="143.6" stroke="#ff44ee" stroke-width="1.3"/>
<text x="416.30" y="146.10" font-size="7.7" font-weight="bold" fill="#262626" text-anchor="start" stroke="#262626" stroke-width="0.3" >VI 14 (1)</text>
<line x1="404.3" y1="154.0" x2="415.3" y2="154.0" stroke="#a0a0a0" stroke-width="1.3"/>
<text x="416.30" y="156.50" font-size="7.7" font-weight="bold" fill="#262626" text-anchor="start" stroke="#262626" stroke-width="0.3" >VI 21 (11)</text>
<rect x="487.0" y="138.4" width="52.20" height="18.60" fill="#fff" stroke="#9fb7cf" stroke-width="1.2"/>
<text x="490.90" y="146.00" font-size="6.8" font-weight="bold" fill="#404040" text-anchor="start" textLength="32.6" lengthAdjust="spacingAndGlyphs" stroke="#404040" stroke-width="0.3" >N= 9 ; No. of</text>
<text x="490.90" y="153.90" font-size="6.8" font-weight="bold" fill="#404040" text-anchor="start" textLength="43.1" lengthAdjust="spacingAndGlyphs" stroke="#404040" stroke-width="0.3" >audiograms = 27</text>
<rect x="487.60" y="19.40" width="148.00" height="138.50" fill="none" stroke="#404040" stroke-width="1.6"/>
<text x="480.20" y="21.40" font-size="6.8" font-weight="bold" fill="#444444" text-anchor="end" stroke="#444444" stroke-width="0.3" >-10</text>
<text x="480.20" y="42.71" font-size="6.8" font-weight="bold" fill="#444444" text-anchor="end" stroke="#444444" stroke-width="0.3" >10</text>
<text x="480.20" y="64.02" font-size="6.8" font-weight="bold" fill="#444444" text-anchor="end" stroke="#444444" stroke-width="0.3" >30</text>
<text x="480.20" y="85.32" font-size="6.8" font-weight="bold" fill="#444444" text-anchor="end" stroke="#444444" stroke-width="0.3" >50</text>
<text x="480.20" y="106.63" font-size="6.8" font-weight="bold" fill="#444444" text-anchor="end" stroke="#444444" stroke-width="0.3" >70</text>
<text x="480.20" y="127.94" font-size="6.8" font-weight="bold" fill="#444444" text-anchor="end" stroke="#444444" stroke-width="0.3" >90</text>
<text x="480.20" y="149.25" font-size="6.8" font-weight="bold" fill="#444444" text-anchor="end" stroke="#444444" stroke-width="0.3" >110</text>
<text x="487.60" y="169.60" font-size="6.8" font-weight="bold" fill="#444444" text-anchor="middle" stroke="#444444" stroke-width="0.3" >0.25</text>
<text x="517.20" y="169.60" font-size="6.8" font-weight="bold" fill="#444444" text-anchor="middle" stroke="#444444" stroke-width="0.3" >0.5</text>
<text x="546.80" y="169.60" font-size="6.8" font-weight="bold" fill="#444444" text-anchor="middle" stroke="#444444" stroke-width="0.3" >1</text>
<text x="576.40" y="169.60" font-size="6.8" font-weight="bold" fill="#444444" text-anchor="middle" stroke="#444444" stroke-width="0.3" >2</text>
<text x="606.00" y="169.60" font-size="6.8" font-weight="bold" fill="#444444" text-anchor="middle" stroke="#444444" stroke-width="0.3" >4</text>
<text x="635.60" y="169.60" font-size="6.8" font-weight="bold" fill="#444444" text-anchor="middle" stroke="#444444" stroke-width="0.3" >8</text>
<text x="558.70" y="179.60" font-size="6.8" font-weight="bold" fill="#595959" text-anchor="middle" textLength="48.6" lengthAdjust="spacingAndGlyphs" stroke="#595959" stroke-width="0.3" >Frequency (kHz)</text>
<text x="0" y="0" font-size="7.2" font-weight="bold" fill="#595959" stroke="#595959" stroke-width="0.4" text-anchor="middle" textLength="50.8" lengthAdjust="spacingAndGlyphs" transform="translate(463.50,96.10) rotate(-90)">Threshold (dBHL)</text>
<line x1="464.4" y1="71.8" x2="464.4" y2="89.6" stroke="#f4a0a8" stroke-width="0.8"/>
<line x1="640.1" y1="70.9" x2="653.7" y2="70.9" stroke="#8064a2" stroke-width="1.3"/>
<text x="655.50" y="73.40" font-size="7.5" font-weight="bold" fill="#262626" text-anchor="start" stroke="#262626" stroke-width="0.3" >VII 2 (2)</text>
<line x1="640.1" y1="82.5" x2="653.7" y2="82.5" stroke="#00b050" stroke-width="1.3"/>
<text x="655.50" y="85.00" font-size="7.5" font-weight="bold" fill="#262626" text-anchor="start" stroke="#262626" stroke-width="0.3" >VII 3 (7)</text>
<line x1="640.1" y1="92.6" x2="653.7" y2="92.6" stroke="#4472c4" stroke-width="2.0"/>
<text x="655.50" y="95.10" font-size="7.5" font-weight="bold" fill="#262626" text-anchor="start" stroke="#262626" stroke-width="0.3" >VI 4 (1)</text>
<line x1="640.1" y1="103.3" x2="653.7" y2="103.3" stroke="#c0504d" stroke-width="1.3"/>
<text x="655.50" y="105.80" font-size="7.5" font-weight="bold" fill="#262626" text-anchor="start" stroke="#262626" stroke-width="0.3" >VI 9 (10)</text>
<line x1="640.1" y1="114.3" x2="653.7" y2="114.3" stroke="#ffc000" stroke-width="1.3"/>
<text x="655.50" y="116.80" font-size="7.5" font-weight="bold" fill="#262626" text-anchor="start" stroke="#262626" stroke-width="0.3" >VI 13 (1)</text>
<line x1="640.1" y1="125.1" x2="653.7" y2="125.1" stroke="#ff66ff" stroke-width="1.3"/>
<text x="655.50" y="127.60" font-size="7.5" font-weight="bold" fill="#262626" text-anchor="start" stroke="#262626" stroke-width="0.3" >VI 14 (3)</text>
<line x1="640.1" y1="136.1" x2="653.7" y2="136.1" stroke="#ffc000" stroke-width="1.3" stroke-dasharray="4,3"/>
<text x="655.50" y="138.60" font-size="7.5" font-weight="bold" fill="#262626" text-anchor="start" stroke="#262626" stroke-width="0.3" >VI 20 (1)</text>
<line x1="640.1" y1="146.8" x2="653.7" y2="146.8" stroke="#808080" stroke-width="1.3"/>
<text x="655.50" y="149.30" font-size="7.5" font-weight="bold" fill="#262626" text-anchor="start" stroke="#262626" stroke-width="0.3" >VI 21 (1)</text>
<line x1="640.1" y1="157.8" x2="653.7" y2="157.8" stroke="#e02020" stroke-width="1.3"/>
<text x="655.50" y="160.30" font-size="7.5" font-weight="bold" fill="#262626" text-anchor="start" stroke="#262626" stroke-width="0.3" >V 1 (1)</text>
<rect x="31.8" y="334.3" width="51.20" height="18.40" fill="#fff" stroke="#9fb7cf" stroke-width="1.2"/>
<text x="34.70" y="341.30" font-size="6.8" font-weight="bold" fill="#404040" text-anchor="start" textLength="32.8" lengthAdjust="spacingAndGlyphs" stroke="#404040" stroke-width="0.3" >N= 7 ; No. of</text>
<text x="34.70" y="349.30" font-size="6.8" font-weight="bold" fill="#404040" text-anchor="start" textLength="42.3" lengthAdjust="spacingAndGlyphs" stroke="#404040" stroke-width="0.3" >audiograms= 23</text>
<rect x="30.20" y="216.30" width="150.00" height="136.50" fill="none" stroke="#404040" stroke-width="1.6"/>
<text x="23.60" y="218.30" font-size="6.8" font-weight="bold" fill="#444444" text-anchor="end" stroke="#444444" stroke-width="0.3" >-10</text>
<text x="23.60" y="239.30" font-size="6.8" font-weight="bold" fill="#444444" text-anchor="end" stroke="#444444" stroke-width="0.3" >10</text>
<text x="23.60" y="260.30" font-size="6.8" font-weight="bold" fill="#444444" text-anchor="end" stroke="#444444" stroke-width="0.3" >30</text>
<text x="23.60" y="281.30" font-size="6.8" font-weight="bold" fill="#444444" text-anchor="end" stroke="#444444" stroke-width="0.3" >50</text>
<text x="23.60" y="302.30" font-size="6.8" font-weight="bold" fill="#444444" text-anchor="end" stroke="#444444" stroke-width="0.3" >70</text>
<text x="23.60" y="323.30" font-size="6.8" font-weight="bold" fill="#444444" text-anchor="end" stroke="#444444" stroke-width="0.3" >90</text>
<text x="23.60" y="344.30" font-size="6.8" font-weight="bold" fill="#444444" text-anchor="end" stroke="#444444" stroke-width="0.3" >110</text>
<text x="30.20" y="365.50" font-size="7.0" font-weight="bold" fill="#444444" text-anchor="middle" stroke="#444444" stroke-width="0.3" >0.25</text>
<text x="60.20" y="365.50" font-size="7.0" font-weight="bold" fill="#444444" text-anchor="middle" stroke="#444444" stroke-width="0.3" >0.5</text>
<text x="90.20" y="365.50" font-size="7.0" font-weight="bold" fill="#444444" text-anchor="middle" stroke="#444444" stroke-width="0.3" >1</text>
<text x="120.20" y="365.50" font-size="7.0" font-weight="bold" fill="#444444" text-anchor="middle" stroke="#444444" stroke-width="0.3" >2</text>
<text x="150.20" y="365.50" font-size="7.0" font-weight="bold" fill="#444444" text-anchor="middle" stroke="#444444" stroke-width="0.3" >4</text>
<text x="180.20" y="365.50" font-size="7.0" font-weight="bold" fill="#444444" text-anchor="middle" stroke="#444444" stroke-width="0.3" >8</text>
<text x="100.30" y="378.60" font-size="6.8" font-weight="bold" fill="#595959" text-anchor="middle" textLength="48.1" lengthAdjust="spacingAndGlyphs" stroke="#595959" stroke-width="0.3" >Frequency (kHz)</text>
<text x="0" y="0" font-size="7.2" font-weight="bold" fill="#595959" stroke="#595959" stroke-width="0.4" text-anchor="middle" textLength="50.3" lengthAdjust="spacingAndGlyphs" transform="translate(13.00,287.15) rotate(-90)">Threshold (dBHL)</text>
<line x1="186.3" y1="280.6" x2="198.8" y2="280.6" stroke="#404040" stroke-width="1.3"/>
<text x="200.00" y="283.10" font-size="7.0" font-weight="bold" fill="#262626" text-anchor="start" stroke="#262626" stroke-width="0.3" >VI 1 (4)</text>
<line x1="186.3" y1="292.4" x2="198.8" y2="292.4" stroke="#2f7fd0" stroke-width="1.3"/>
<text x="200.00" y="294.90" font-size="7.0" font-weight="bold" fill="#262626" text-anchor="start" stroke="#262626" stroke-width="0.3" >VI 4 (2)</text>
<line x1="186.3" y1="304.2" x2="198.8" y2="304.2" stroke="#e04848" stroke-width="1.3"/>
<text x="200.00" y="306.70" font-size="7.0" font-weight="bold" fill="#262626" text-anchor="start" stroke="#262626" stroke-width="0.3" >VI 9 (5)</text>
<line x1="186.3" y1="315.3" x2="198.8" y2="315.3" stroke="#ffc000" stroke-width="1.3"/>
<text x="200.00" y="317.80" font-size="7.0" font-weight="bold" fill="#262626" text-anchor="start" stroke="#262626" stroke-width="0.3" >VI 13 (1)</text>
<line x1="186.3" y1="326.7" x2="198.8" y2="326.7" stroke="#e050e0" stroke-width="1.3"/>
<text x="200.00" y="329.20" font-size="7.0" font-weight="bold" fill="#262626" text-anchor="start" stroke="#262626" stroke-width="0.3" >VI 14 (3)</text>
<line x1="186.3" y1="338.5" x2="198.8" y2="338.5" stroke="#92d050" stroke-width="1.3" stroke-dasharray="4,3"/>
<text x="200.00" y="341.00" font-size="7.0" font-weight="bold" fill="#262626" text-anchor="start" stroke="#262626" stroke-width="0.3" >VI 17 (1)</text>
<line x1="186.3" y1="349.8" x2="198.8" y2="349.8" stroke="#d02020" stroke-width="1.3"/>
<text x="200.00" y="352.30" font-size="7.0" font-weight="bold" fill="#262626" text-anchor="start" stroke="#262626" stroke-width="0.3" >V 1 (7)</text>
<rect x="255.3" y="333.2" width="51.40" height="18.60" fill="#fff" stroke="#9fb7cf" stroke-width="1.2"/>
<text x="258.40" y="340.60" font-size="6.8" font-weight="bold" fill="#404040" text-anchor="start" textLength="33.1" lengthAdjust="spacingAndGlyphs" stroke="#404040" stroke-width="0.3" >N= 4 ; No. of</text>
<text x="258.40" y="348.50" font-size="6.8" font-weight="bold" fill="#404040" text-anchor="start" textLength="40.1" lengthAdjust="spacingAndGlyphs" stroke="#404040" stroke-width="0.3" >audiograms = 7</text>
<rect x="255.20" y="214.20" width="148.20" height="138.00" fill="none" stroke="#404040" stroke-width="1.6"/>
<text x="248.60" y="216.20" font-size="6.8" font-weight="bold" fill="#444444" text-anchor="end" stroke="#444444" stroke-width="0.3" >-10</text>
<text x="248.60" y="237.43" font-size="6.8" font-weight="bold" fill="#444444" text-anchor="end" stroke="#444444" stroke-width="0.3" >10</text>
<text x="248.60" y="258.66" font-size="6.8" font-weight="bold" fill="#444444" text-anchor="end" stroke="#444444" stroke-width="0.3" >30</text>
<text x="248.60" y="279.89" font-size="6.8" font-weight="bold" fill="#444444" text-anchor="end" stroke="#444444" stroke-width="0.3" >50</text>
<text x="248.60" y="301.12" font-size="6.8" font-weight="bold" fill="#444444" text-anchor="end" stroke="#444444" stroke-width="0.3" >70</text>
<text x="248.60" y="322.35" font-size="6.8" font-weight="bold" fill="#444444" text-anchor="end" stroke="#444444" stroke-width="0.3" >90</text>
<text x="248.60" y="343.58" font-size="6.8" font-weight="bold" fill="#444444" text-anchor="end" stroke="#444444" stroke-width="0.3" >110</text>
<text x="255.20" y="363.90" font-size="6.8" font-weight="bold" fill="#444444" text-anchor="middle" stroke="#444444" stroke-width="0.3" >0.25</text>
<text x="284.84" y="363.90" font-size="6.8" font-weight="bold" fill="#444444" text-anchor="middle" stroke="#444444" stroke-width="0.3" >0.5</text>
<text x="314.48" y="363.90" font-size="6.8" font-weight="bold" fill="#444444" text-anchor="middle" stroke="#444444" stroke-width="0.3" >1</text>
<text x="344.12" y="363.90" font-size="6.8" font-weight="bold" fill="#444444" text-anchor="middle" stroke="#444444" stroke-width="0.3" >2</text>
<text x="373.76" y="363.90" font-size="6.8" font-weight="bold" fill="#444444" text-anchor="middle" stroke="#444444" stroke-width="0.3" >4</text>
<text x="403.40" y="363.90" font-size="6.8" font-weight="bold" fill="#444444" text-anchor="middle" stroke="#444444" stroke-width="0.3" >8</text>
<text x="326.70" y="376.80" font-size="6.8" font-weight="bold" fill="#595959" text-anchor="middle" textLength="48.4" lengthAdjust="spacingAndGlyphs" stroke="#595959" stroke-width="0.3" >Frequency (kHz)</text>
<text x="0" y="0" font-size="7.2" font-weight="bold" fill="#595959" stroke="#595959" stroke-width="0.4" text-anchor="middle" textLength="50.0" lengthAdjust="spacingAndGlyphs" transform="translate(238.00,292.30) rotate(-90)">Threshold (dBHL)</text>
<line x1="239.0" y1="268.5" x2="239.0" y2="287.5" stroke="#f4a0a8" stroke-width="0.8"/>
<line x1="410.2" y1="308.7" x2="423.6" y2="308.7" stroke="#505050" stroke-width="1.3"/>
<text x="424.10" y="311.20" font-size="7.2" font-weight="bold" fill="#262626" text-anchor="start" stroke="#262626" stroke-width="0.3" >VI 1 (1)</text>
<line x1="410.2" y1="320.8" x2="423.6" y2="320.8" stroke="#e05060" stroke-width="1.3"/>
<text x="424.10" y="323.30" font-size="7.2" font-weight="bold" fill="#262626" text-anchor="start" stroke="#262626" stroke-width="0.3" >V 1 (4)</text>
<line x1="410.2" y1="333.4" x2="423.6" y2="333.4" stroke="#c8a020" stroke-width="1.3"/>
<text x="424.10" y="335.90" font-size="7.2" font-weight="bold" fill="#262626" text-anchor="start" stroke="#262626" stroke-width="0.3" >V 6 (1)</text>
<line x1="410.2" y1="346.0" x2="423.6" y2="346.0" stroke="#5b9bd5" stroke-width="1.3" stroke-dasharray="4,3"/>
<text x="424.10" y="348.50" font-size="7.2" font-weight="bold" fill="#262626" text-anchor="start" stroke="#262626" stroke-width="0.3" >V 19 (1)</text>
<rect x="489.4" y="333.2" width="51.20" height="18.60" fill="#fff" stroke="#9fb7cf" stroke-width="1.2"/>
<text x="492.70" y="340.60" font-size="6.8" font-weight="bold" fill="#404040" text-anchor="start" textLength="32.3" lengthAdjust="spacingAndGlyphs" stroke="#404040" stroke-width="0.3" >N= 5 ; No. of</text>
<text x="492.70" y="348.50" font-size="6.8" font-weight="bold" fill="#404040" text-anchor="start" textLength="43.1" lengthAdjust="spacingAndGlyphs" stroke="#404040" stroke-width="0.3" >audiograms = 11</text>
<rect x="487.60" y="214.60" width="149.20" height="137.90" fill="none" stroke="#404040" stroke-width="1.6"/>
<text x="480.60" y="216.60" font-size="7.2" font-weight="bold" fill="#444444" text-anchor="end" stroke="#444444" stroke-width="0.3" >-10</text>
<text x="480.60" y="237.82" font-size="7.2" font-weight="bold" fill="#444444" text-anchor="end" stroke="#444444" stroke-width="0.3" >10</text>
<text x="480.60" y="259.03" font-size="7.2" font-weight="bold" fill="#444444" text-anchor="end" stroke="#444444" stroke-width="0.3" >30</text>
<text x="480.60" y="280.25" font-size="7.2" font-weight="bold" fill="#444444" text-anchor="end" stroke="#444444" stroke-width="0.3" >50</text>
<text x="480.60" y="301.46" font-size="7.2" font-weight="bold" fill="#444444" text-anchor="end" stroke="#444444" stroke-width="0.3" >70</text>
<text x="480.60" y="322.68" font-size="7.2" font-weight="bold" fill="#444444" text-anchor="end" stroke="#444444" stroke-width="0.3" >90</text>
<text x="480.60" y="343.89" font-size="7.2" font-weight="bold" fill="#444444" text-anchor="end" stroke="#444444" stroke-width="0.3" >110</text>
<text x="487.60" y="366.00" font-size="7.6" font-weight="bold" fill="#444444" text-anchor="middle" stroke="#444444" stroke-width="0.3" >0.25</text>
<text x="517.44" y="366.00" font-size="7.6" font-weight="bold" fill="#444444" text-anchor="middle" stroke="#444444" stroke-width="0.3" >0.5</text>
<text x="547.28" y="366.00" font-size="7.6" font-weight="bold" fill="#444444" text-anchor="middle" stroke="#444444" stroke-width="0.3" >1</text>
<text x="577.12" y="366.00" font-size="7.6" font-weight="bold" fill="#444444" text-anchor="middle" stroke="#444444" stroke-width="0.3" >2</text>
<text x="606.96" y="366.00" font-size="7.6" font-weight="bold" fill="#444444" text-anchor="middle" stroke="#444444" stroke-width="0.3" >4</text>
<text x="636.80" y="366.00" font-size="7.6" font-weight="bold" fill="#444444" text-anchor="middle" stroke="#444444" stroke-width="0.3" >8</text>
<text x="558.20" y="376.80" font-size="6.8" font-weight="bold" fill="#595959" text-anchor="middle" textLength="48.7" lengthAdjust="spacingAndGlyphs" stroke="#595959" stroke-width="0.3" >Frequency (kHz)</text>
<text x="0" y="0" font-size="8.0" font-weight="normal" fill="#595959" stroke="#595959" stroke-width="0.4" text-anchor="middle" textLength="57.1" lengthAdjust="spacingAndGlyphs" transform="translate(463.50,285.35) rotate(-90)">Threshold (dBHL)</text>
<line x1="464.6" y1="258.0" x2="464.6" y2="279.0" stroke="#f4a0a8" stroke-width="0.8"/>
<line x1="639.8" y1="309.0" x2="651.4" y2="309.0" stroke="#c0504d" stroke-width="1.3"/>
<text x="651.90" y="311.50" font-size="6.75" font-weight="bold" fill="#262626" text-anchor="start" stroke="#262626" stroke-width="0.3" >V 1 (5)</text>
<line x1="639.8" y1="318.1" x2="651.4" y2="318.1" stroke="#8064a2" stroke-width="1.3" stroke-dasharray="4,3"/>
<text x="651.90" y="320.60" font-size="6.75" font-weight="bold" fill="#262626" text-anchor="start" stroke="#262626" stroke-width="0.3" >V 3 (1)</text>
<line x1="639.8" y1="327.5" x2="651.4" y2="327.5" stroke="#b8d890" stroke-width="1.3"/>
<text x="651.90" y="330.00" font-size="6.75" font-weight="bold" fill="#262626" text-anchor="start" stroke="#262626" stroke-width="0.3" >V 4 (1)</text>
<line x1="639.8" y1="336.9" x2="651.4" y2="336.9" stroke="#4f81bd" stroke-width="1.3" stroke-dasharray="4,3"/>
<text x="651.90" y="339.40" font-size="6.75" font-weight="bold" fill="#262626" text-anchor="start" stroke="#262626" stroke-width="0.3" >V 19 (1)</text>
<line x1="639.8" y1="345.8" x2="651.4" y2="345.8" stroke="#66e6cc" stroke-width="1.3"/>
<text x="651.90" y="348.30" font-size="6.75" font-weight="bold" fill="#262626" text-anchor="start" stroke="#262626" stroke-width="0.3" >IV 14 (3)</text>
<text x="74.00" y="9.10" font-size="10.8" font-weight="bold" fill="#646464" text-anchor="start" textLength="47.3" lengthAdjust="spacingAndGlyphs" stroke="#646464" stroke-width="0.3" >Decade 1</text>
<text x="294.60" y="11.90" font-size="10.8" font-weight="bold" fill="#646464" text-anchor="start" textLength="47.9" lengthAdjust="spacingAndGlyphs" stroke="#646464" stroke-width="0.3" >Decade 2</text>
<text x="538.10" y="9.90" font-size="10.8" font-weight="bold" fill="#646464" text-anchor="start" textLength="47.3" lengthAdjust="spacingAndGlyphs" stroke="#646464" stroke-width="0.3" >Decade 3</text>
<text x="80.10" y="208.80" font-size="10.8" font-weight="bold" fill="#646464" text-anchor="start" textLength="47.6" lengthAdjust="spacingAndGlyphs" stroke="#646464" stroke-width="0.3" >Decade 4</text>
<text x="304.60" y="208.10" font-size="10.8" font-weight="bold" fill="#646464" text-anchor="start" textLength="47.5" lengthAdjust="spacingAndGlyphs" stroke="#646464" stroke-width="0.3" >Decade 5</text>
<text x="538.40" y="204.90" font-size="10.8" font-weight="bold" fill="#646464" text-anchor="start" textLength="53.6" lengthAdjust="spacingAndGlyphs" stroke="#646464" stroke-width="0.3" >Decade 6+</text>
</svg></body></html>
